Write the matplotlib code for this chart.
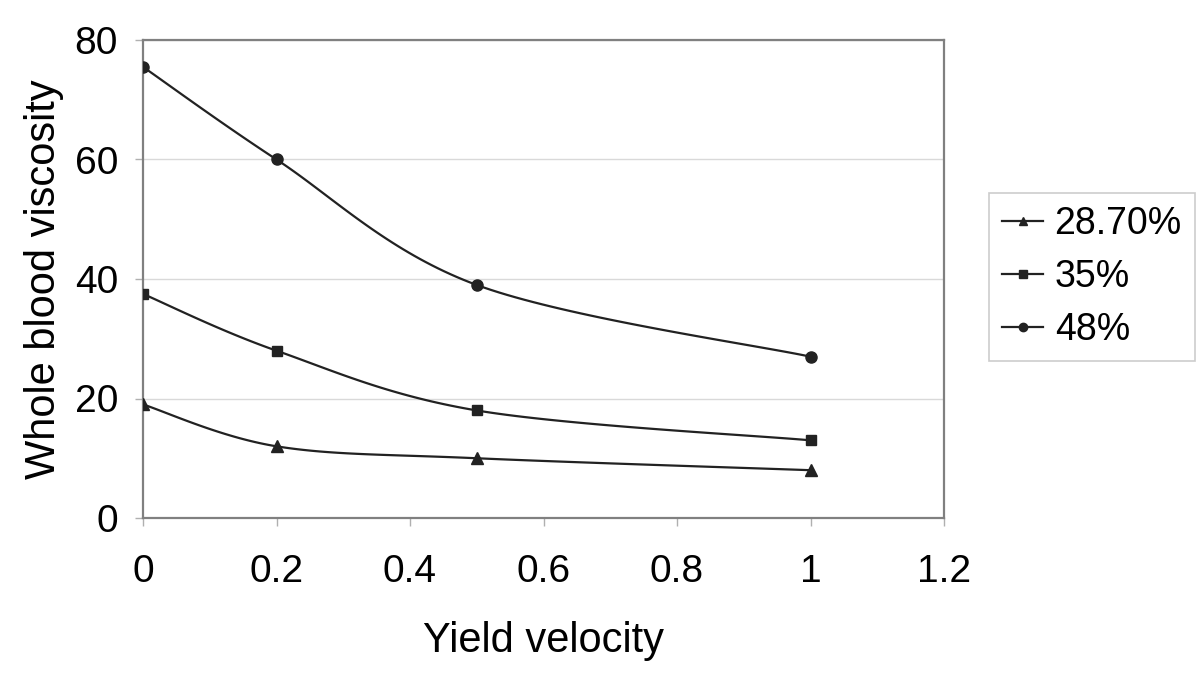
import numpy as np
import matplotlib
matplotlib.use("Agg")
import matplotlib.pyplot as plt

plt.rcParams['font.family'] = ['Liberation Sans', 'DejaVu Sans']

x_vals = [0, 0.2, 0.5, 1.0]
series_names = ["28.70%", "35%", "48%"]
s_287 = [19, 12, 10, 8]
s_35 = [37.5, 28, 18, 13]
s_48 = [75.5, 60, 39, 27]
markers = ["^", "s", "o"]
x_ticks = [0, 0.2, 0.4, 0.6, 0.8, 1, 1.2]
x_ticklabels = ["0", "0.2", "0.4", "0.6", "0.8", "1", "1.2"]
y_ticks = [0, 20, 40, 60, 80]


def smooth(xs, ys, n=40):
    # Excel-like smoothed line: cubic Bezier with Catmull-Rom control points
    xs = np.asarray(xs, float)
    ys = np.asarray(ys, float)
    P = np.column_stack([xs, ys])
    out = [P[0]]
    t = np.linspace(0, 1, n)[1:]
    for i in range(len(P) - 1):
        p0 = P[i - 1] if i > 0 else P[i]
        p1 = P[i]
        p2 = P[i + 1]
        p3 = P[i + 2] if i + 2 < len(P) else P[i + 1]
        c1 = p1 + (p2 - p0) / 6.0
        c2 = p2 - (p3 - p1) / 6.0
        for tt in t:
            b = ((1 - tt) ** 3) * p1 + 3 * ((1 - tt) ** 2) * tt * c1 + 3 * (1 - tt) * tt ** 2 * c2 + tt ** 3 * p2
            out.append(b)
    out = np.array(out)
    return out[:, 0], out[:, 1]


fig = plt.figure(figsize=(12, 6.73), dpi=100)
ax = fig.add_axes([143 / 1200, 1 - 518 / 673, (944 - 143) / 1200, (518 - 40) / 673])

msizes = [8, 7, 8]
for name, ys, mk, ms in zip(series_names, [s_287, s_35, s_48], markers, msizes):
    sx, sy = smooth(x_vals, ys)
    ax.plot(sx, sy, color="#222222", lw=1.6, zorder=3)
    ax.plot(x_vals, ys, linestyle="none", marker=mk, color="#222222", ms=ms, zorder=4)
    ax.plot([], [], color="#222222", lw=1.6, marker=mk, ms=ms * 0.75, label=name)

ax.set_xlim(0, 1.2)
ax.set_ylim(0, 80)
ax.set_xticks(x_ticks)
ax.set_xticklabels(x_ticklabels)
ax.set_yticks(y_ticks)
ax.yaxis.grid(True, color="#d9d9d9", lw=1)
ax.set_axisbelow(True)
for sp in ax.spines.values():
    sp.set_color("#808080")
    sp.set_linewidth(1.6)
ax.tick_params(axis="both", direction="out", length=6, width=1, color="#b0b0b0",
               labelsize=28)
ax.tick_params(axis="x", pad=20)
ax.tick_params(axis="y", pad=12)
ax.set_xlabel("Yield velocity", fontsize=30, labelpad=22)
ax.set_ylabel("Whole blood viscosity", fontsize=30, labelpad=8)

leg = fig.legend(loc="center right", bbox_to_anchor=(1195 / 1200, 1 - 277 / 673),
                 fontsize=27, frameon=True, fancybox=False, handlelength=1.1,
                 handletextpad=0.3, borderpad=0.35, labelspacing=0.45,
                 borderaxespad=0)
leg.get_frame().set_edgecolor("#c0c0c0")
leg.get_frame().set_linewidth(1.2)

fig.savefig("out.png", dpi=100)
